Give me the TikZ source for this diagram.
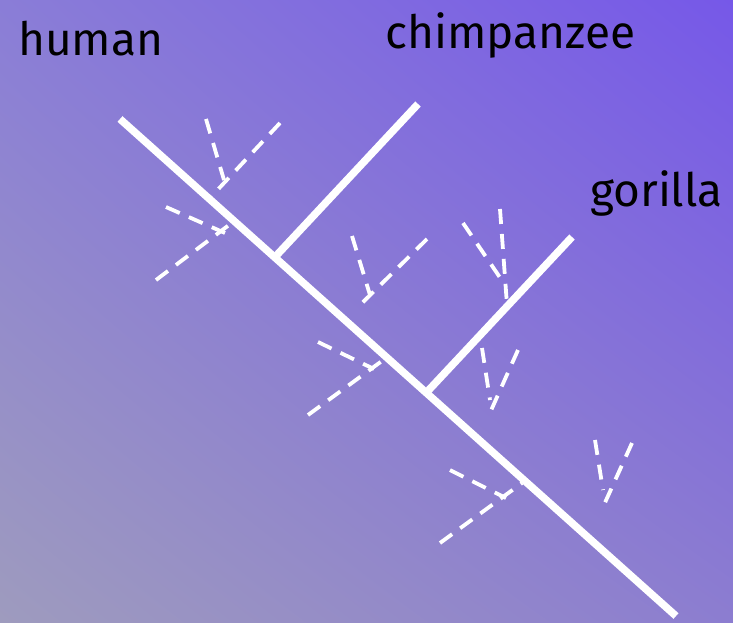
\documentclass[tikz,border=0pt]{standalone}
\usepackage{fontspec}
\setmainfont{Fira Sans}
\usepackage{tikz}
\usetikzlibrary{
  calc,
  shadings,
}
\definecolor{bgTopL}{RGB}{138,125,215}
\definecolor{bgTopR}{RGB}{118,88,232}
\definecolor{bgBotL}{RGB}{158,155,190}
\definecolor{bgBotR}{RGB}{140,125,208}
\tikzset{
  trunk/.style={
    draw=white, line width=7.5pt,
  },
  twig/.style={
    draw=white, line width=3.8pt, dash pattern=on 15pt off 10pt,
  },
  species/.style={
    anchor=base west, inner sep=0pt, text=black,
    font=\fontsize{46}{50}\selectfont,
  },
}

\begin{document}
\begin{tikzpicture}[x=1pt, y=-1pt]
% background
\shade[upper left=bgTopL, upper right=bgTopR, lower left=bgBotL, lower right=bgBotR]
  (0,0) rectangle (733,622);
\useasboundingbox (0,0) rectangle (733,622);

% tree
\coordinate (root)      at (676,616);
\coordinate (humTip)    at (120,119);
\coordinate (chimpTip)  at (418,104);
\coordinate (chimpBase) at (275,257);
\coordinate (gorTip)    at (572,237);
\coordinate (gorBase)   at (426,393);
\draw[trunk] (humTip) -- (root);
\draw[trunk] (chimpBase) -- (chimpTip);
\draw[trunk] (gorBase) -- (gorTip);

% extinct side lineages
\foreach \n/\xa/\ya/\xb/\yb in {
    a1/280/123/210/198, a2/206/119/224/180,
    b1/156/280/233/222, b2/166/207/225/233,
    c1/427/239/356/309, c2/352/236/370/295,
    d1/308/415/386/358, d2/318/342/374/369,
    e1/500/209/507/305, e2/463/223/503/282,
    f1/482/348/490/400, f2/518/350/489/415,
    g1/440/543/522/483, g2/450/470/506/498,
    h1/595/440/603/490, h2/632/443/603/507} {
  \coordinate (\n-out) at (\xa,\ya);
  \coordinate (\n-in)  at (\xb,\yb);
  \draw[twig] (\n-out) -- (\n-in);
}

% labels
\node[species] (human) at (18,55)  {human};
\node[species] (chimp) at (385,48) {chimpanzee};
\node[species] (gor)   at (590,206) {gorilla};
\end{tikzpicture}
\end{document}
